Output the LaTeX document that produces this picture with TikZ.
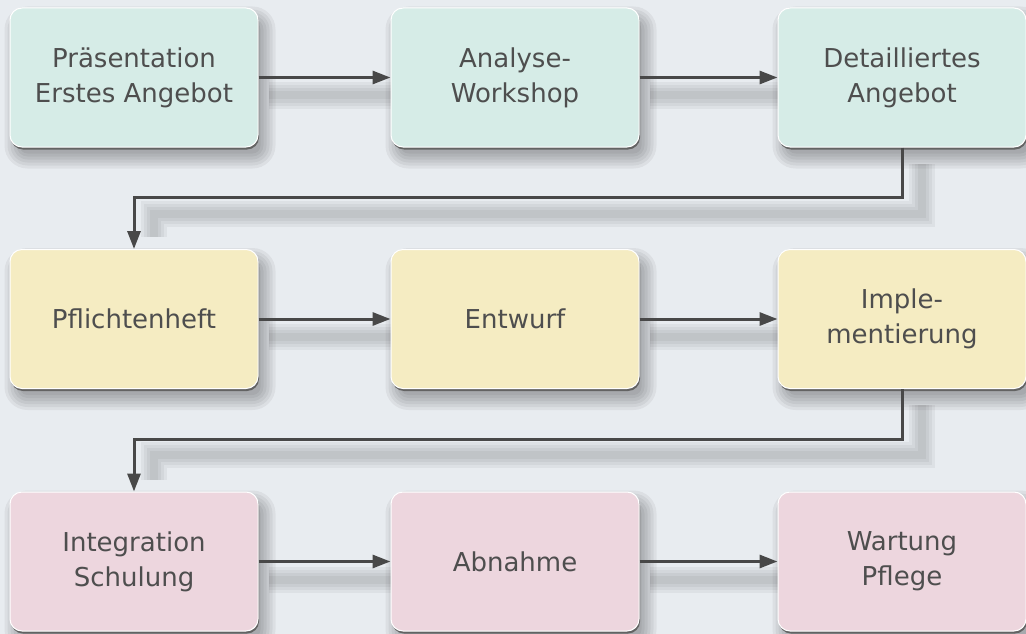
\documentclass[tikz,border=0pt]{standalone}
\usepackage{fontspec}
\setmainfont{DejaVu Sans}
\usetikzlibrary{arrows.meta}
\definecolor{bg}{RGB}{232,236,240}
\definecolor{mint}{RGB}{214,236,231}
\definecolor{sand}{RGB}{245,236,194}
\definecolor{rose}{RGB}{237,214,222}
\definecolor{ink}{RGB}{72,72,72}
\definecolor{txt}{RGB}{78,78,78}
\pgfdeclarelayer{bglayer}
\pgfdeclarelayer{back}
\pgfsetlayers{bglayer,back,main}
\begin{document}
\begin{tikzpicture}[x=1pt,y=-1pt,
  stage/.style={rounded corners=12pt, minimum width=248pt, minimum height=139pt,
    align=center, text=txt, font=\fontsize{26}{35}\selectfont, inner sep=0pt,
    draw=white, line width=1pt,
    preaction={fill=ink!85, transform canvas={xshift=1pt, yshift=-2.5pt}}},
  flow/.style={draw=ink, line width=3pt, -{Triangle[length=18pt,width=13pt]}},
  lshadow/.style={draw=black, line width=#1, opacity=0.045},
  bshadow/.style={fill=black, opacity=0.05},
]
\begin{pgfonlayer}{bglayer}
\fill[bg] (0,0) rectangle (1026,634);
\end{pgfonlayer}
\useasboundingbox (0,0) rectangle (1026,634);

\node[stage, fill=mint] (a1) at (134,77.5) {Präsentation\\Erstes Angebot};
\node[stage, fill=mint] (a2) at (515,77.5) {Analyse-\\Workshop};
\node[stage, fill=mint] (a3) at (902,77.5) {Detailliertes\\Angebot};
\node[stage, fill=sand] (b1) at (134,319) {Pflichtenheft};
\node[stage, fill=sand] (b2) at (515,319) {Entwurf};
\node[stage, fill=sand] (b3) at (902,319) {Imple-\\mentierung};
\node[stage, fill=rose] (c1) at (134,561.5) {Integration\\Schulung};
\node[stage, fill=rose] (c2) at (515,561.5) {Abnahme};
\node[stage, fill=rose] (c3) at (902,561.5) {Wartung\\Pflege};

\begin{pgfonlayer}{back}
\foreach \n in {a1,a2,a3,b1,b2,b3,c1,c2,c3}{
  \foreach \r in {-4,-1,2,5,8,11}{
    \fill[bshadow, rounded corners=12pt+\r pt]
      ([shift={(6-\r,10-\r)}]\n.north west) rectangle ([shift={(6+\r,10+\r)}]\n.south east);
  }
}
\foreach \w in {26pt,20pt,14pt,8pt}{
  \draw[lshadow=\w] ([shift={(10,18)}]a1.east) -- ([shift={(10,18)}]a2.west);
  \draw[lshadow=\w] ([shift={(10,18)}]a2.east) -- ([shift={(10,18)}]a3.west);
  \draw[lshadow=\w] ([shift={(10,18)}]b1.east) -- ([shift={(10,18)}]b2.west);
  \draw[lshadow=\w] ([shift={(10,18)}]b2.east) -- ([shift={(10,18)}]b3.west);
  \draw[lshadow=\w] ([shift={(10,18)}]c1.east) -- ([shift={(10,18)}]c2.west);
  \draw[lshadow=\w] ([shift={(10,18)}]c2.east) -- ([shift={(10,18)}]c3.west);
  \draw[lshadow=\w] ([shift={(20,16)}]a3.south) -- ++(0,50) -| ([shift={(20,-12)}]b1.north);
  \draw[lshadow=\w] ([shift={(20,16)}]b3.south) -- ++(0,50) -| ([shift={(20,-12)}]c1.north);
}
\end{pgfonlayer}

\draw[flow] (a1.east) -- (a2.west);
\draw[flow] (a2.east) -- (a3.west);
\draw[flow] (b1.east) -- (b2.west);
\draw[flow] (b2.east) -- (b3.west);
\draw[flow] (c1.east) -- (c2.west);
\draw[flow] (c2.east) -- (c3.west);
\draw[flow] (a3.south) -- ++(0,50) -| (b1.north);
\draw[flow] (b3.south) -- ++(0,50) -| (c1.north);
\end{tikzpicture}
\end{document}
